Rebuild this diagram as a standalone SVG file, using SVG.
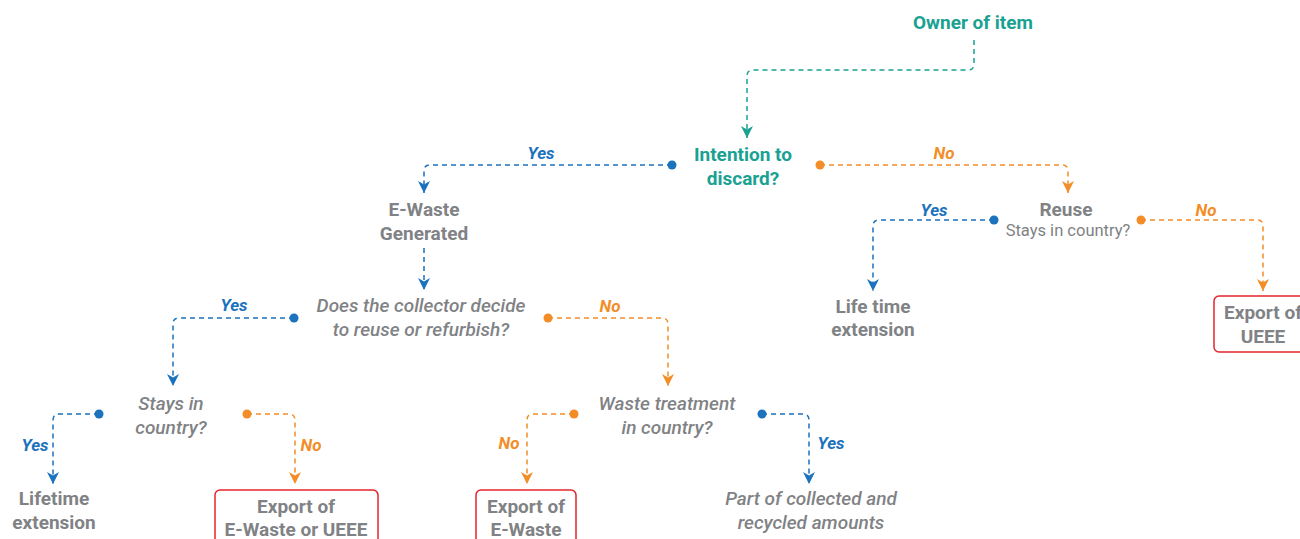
<svg xmlns="http://www.w3.org/2000/svg" width="1300" height="539" viewBox="0 0 1300 539">
<style>
text{font-family:Roboto,"Liberation Sans",sans-serif;text-anchor:middle}
.teal{fill:#19a192;font-weight:700;font-size:19px}
.head{fill:#808285;font-weight:700;font-size:19px}
.q{fill:#808285;font-style:italic;font-weight:500;font-size:19px}
.sub{fill:#808285;font-weight:400;font-size:16.5px}
.yes{fill:#1b72bd;font-style:italic;font-weight:700;font-size:17px}
.no{fill:#f38d27;font-style:italic;font-weight:700;font-size:17px}
.c{fill:none;stroke-width:1.5;stroke-dasharray:5 4}
.ct{stroke:#19a192}.cb{stroke:#1b72bd}.co{stroke:#f38d27}
.db{fill:#1b72bd}.do{fill:#f38d27}
.box{fill:none;stroke:#e5242b;stroke-width:1.5}
</style>
<defs>
<marker id="at" markerUnits="userSpaceOnUse" markerWidth="12" markerHeight="12" viewBox="0 0 12 12" refX="12" refY="6" orient="auto"><path d="M0,0 L12,6 L0,12 L3.5,6 z" fill="#19a192"/></marker>
<marker id="ab" markerUnits="userSpaceOnUse" markerWidth="12" markerHeight="12" viewBox="0 0 12 12" refX="12" refY="6" orient="auto"><path d="M0,0 L12,6 L0,12 L3.5,6 z" fill="#1b72bd"/></marker>
<marker id="ao" markerUnits="userSpaceOnUse" markerWidth="12" markerHeight="12" viewBox="0 0 12 12" refX="12" refY="6" orient="auto"><path d="M0,0 L12,6 L0,12 L3.5,6 z" fill="#f38d27"/></marker>
</defs>
<g id="connectors">
<path class="c ct" d="M974,40 V64 Q974,70 968,70 H753 Q747,70 747,76 V138" marker-end="url(#at)"/>
<path class="c cb" d="M672,165 H430 Q424,165 424,171 V193" marker-end="url(#ab)"/>
<circle class="db" cx="672" cy="165" r="4.5"/>
<path class="c co" d="M820,165 H1062 Q1068,165 1068,171 V193" marker-end="url(#ao)"/>
<circle class="do" cx="820" cy="165" r="4.5"/>
<path class="c cb" d="M424,248 V290" marker-end="url(#ab)"/>
<path class="c cb" d="M994,220 H879 Q873,220 873,226 V291" marker-end="url(#ab)"/>
<circle class="db" cx="994" cy="220" r="4.5"/>
<path class="c co" d="M1141,220 H1257 Q1263,220 1263,226 V291" marker-end="url(#ao)"/>
<circle class="do" cx="1141" cy="220" r="4.5"/>
<path class="c cb" d="M294,318 H179 Q173,318 173,324 V386" marker-end="url(#ab)"/>
<circle class="db" cx="294" cy="318" r="4.5"/>
<path class="c co" d="M548,318 H662 Q668,318 668,324 V386" marker-end="url(#ao)"/>
<circle class="do" cx="548" cy="318" r="4.5"/>
<path class="c cb" d="M99,414 H59 Q53,414 53,420 V484" marker-end="url(#ab)"/>
<circle class="db" cx="99" cy="414" r="4.5"/>
<path class="c co" d="M247,414 H289 Q295,414 295,420 V484" marker-end="url(#ao)"/>
<circle class="do" cx="247" cy="414" r="4.5"/>
<path class="c co" d="M574,414 H533 Q527,414 527,420 V484" marker-end="url(#ao)"/>
<circle class="do" cx="574" cy="414" r="4.5"/>
<path class="c cb" d="M762,414 H803 Q809,414 809,420 V484" marker-end="url(#ab)"/>
<circle class="db" cx="762" cy="414" r="4.5"/>
<text class="yes" x="541" y="159">Yes</text>
<text class="no" x="944" y="159">No</text>
<text class="yes" x="934" y="216">Yes</text>
<text class="no" x="1206" y="216">No</text>
<text class="yes" x="234" y="311">Yes</text>
<text class="no" x="610" y="312">No</text>
<text class="yes" x="35" y="451">Yes</text>
<text class="no" x="311" y="451">No</text>
<text class="no" x="509" y="449">No</text>
<text class="yes" x="831" y="449">Yes</text>
</g>
<g id="owner"><text class="teal" x="973" y="29">Owner of item</text></g>
<g id="intention"><text class="teal" x="743" y="161">Intention to</text><text class="teal" x="743" y="185">discard?</text></g>
<g id="ewaste"><text class="head" x="424" y="216">E-Waste</text><text class="head" x="424" y="240">Generated</text></g>
<g id="reuse"><text class="head" x="1066" y="216">Reuse</text><text class="sub" x="1068" y="236">Stays in country?</text></g>
<g id="lifetime1"><text class="head" x="873" y="313">Life time</text><text class="head" x="873" y="336">extension</text></g>
<g id="export-ueee"><rect class="box" x="1214" y="296" width="100" height="56" rx="5"/><text class="head" x="1263" y="319">Export of</text><text class="head" x="1263" y="343">UEEE</text></g>
<g id="collector"><text class="q" x="421" y="312">Does the collector decide</text><text class="q" x="421" y="336">to reuse or refurbish?</text></g>
<g id="stays"><text class="q" x="171" y="410">Stays in</text><text class="q" x="171" y="434">country?</text></g>
<g id="treatment"><text class="q" x="667" y="410">Waste treatment</text><text class="q" x="667" y="434">in country?</text></g>
<g id="lifetime2"><text class="head" x="54" y="505">Lifetime</text><text class="head" x="54" y="529">extension</text></g>
<g id="export-both"><rect class="box" x="215" y="490" width="163" height="60" rx="5"/><text class="head" x="296" y="513">Export of</text><text class="head" x="296" y="536">E-Waste or UEEE</text></g>
<g id="export-ewaste"><rect class="box" x="476" y="490" width="100" height="60" rx="5"/><text class="head" x="526" y="513">Export of</text><text class="head" x="526" y="536">E-Waste</text></g>
<g id="part"><text class="q" x="811" y="505">Part of collected and</text><text class="q" x="811" y="529">recycled amounts</text></g>
</svg>
